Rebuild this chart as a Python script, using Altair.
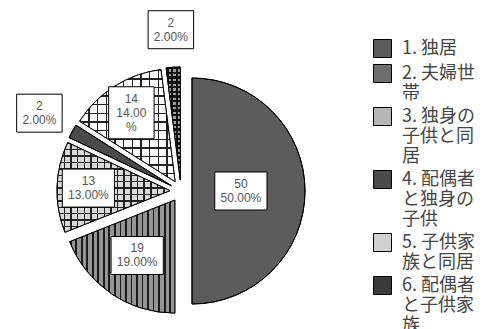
import altair as alt
import pandas as pd

# ---- data ----
names = ["独居", "夫婦世帯", "独身の子供と同居", "配偶者と独身の子供", "子供家族と同居", "配偶者と子供家族"]
values = [50, 19, 13, 2, 14, 2]
slice_labels = ["50|50.00%", "19|19.00%", "13|13.00%", "2|2.00%", "14|14.00|%", "2|2.00%"]


def wrap(i, name):
    parts = [f"{i}. " + name[:3]] + [name[j:j + 4] for j in range(3, len(name), 4)]
    return "|".join(parts)


cats = [wrap(i + 1, n) for i, n in enumerate(names)]
df = pd.DataFrame({"cat": cats, "value": values, "lab": slice_labels, "idx": list(range(len(values)))})

# ---- layout / style ----
CX, CY, R, E = 181, 191, 113, 11
LH = 14  # slice-label line height
base_colors = ["#5c5c5c", "#6e6e6e", "#b5b5b5", "#4a4a4a", "#d0d0d0", "#3a3a3a"]


def stripes(n, duty, line, bg, vertical=True):
    stops = []
    for i in range(n):
        a, b, c = i / n, (i + duty) / n, (i + 1) / n
        stops += [alt.GradientStop(offset=a, color=line), alt.GradientStop(offset=b, color=line),
                  alt.GradientStop(offset=b, color=bg), alt.GradientStop(offset=c, color=bg)]
    if vertical:
        return alt.LinearGradient(gradient="linear", stops=stops, x1=0, y1=0, x2=1, y2=0)
    return alt.LinearGradient(gradient="linear", stops=stops, x1=0, y1=0, x2=0, y2=1)


TR = "rgba(0,0,0,0)"
patterns = [
    (1, stripes(19, 0.32, "#1a1a1a", "#959595", True)),
    (2, stripes(17, 0.22, "#222222", "#dadada", True)),
    (2, stripes(14, 0.22, "#222222", TR, False)),
    (4, stripes(11, 0.16, "#222222", "#ffffff", True)),
    (4, stripes(13, 0.16, "#222222", TR, False)),
    (5, stripes(3, 0.5, "#111111", "#a0a0a0", True)),
    (5, stripes(24, 0.5, "#111111", TR, False)),
]

arc_enc = dict(
    theta=alt.Theta("t0:Q", scale=None),
    theta2=alt.Theta2("t1:Q"),
    x=alt.X("px:Q", scale=None, axis=None),
    y=alt.Y("py:Q", scale=None, axis=None),
)

base = alt.Chart()

pie = base.mark_arc(radius=R, stroke="black", strokeWidth=1).encode(
    **arc_enc,
    color=alt.Color(
        "cat:N",
        scale=alt.Scale(domain=cats, range=base_colors),
        sort=cats,
        legend=alt.Legend(
            orient="none", legendX=373, legendY=39, title=None,
            symbolType="square", symbolSize=324, symbolStrokeColor="black", symbolStrokeWidth=1,
            labelFont="Noto Sans CJK JP", labelFontSize=18, labelColor="#454545",
            labelExpr="split(datum.label, '|')", labelLimit=300, labelOffset=10,
            rowPadding=2, padding=0,
        ),
    ),
)

pattern_layers = [
    base.mark_arc(radius=R, fill=g, strokeWidth=0).encode(**arc_enc).transform_filter(f"datum.idx == {k}")
    for k, g in patterns
]

outline = base.mark_arc(radius=R, fillOpacity=0, stroke="black", strokeWidth=1).encode(**arc_enc)

boxes = base.mark_rect(fill="white", stroke="black", strokeWidth=1).encode(
    x=alt.X("bx0:Q", scale=None, axis=None), x2="bx1:Q",
    y=alt.Y("by0:Q", scale=None, axis=None), y2="by1:Q",
)

texts = base.mark_text(
    lineBreak="|", fontSize=12, font="Liberation Sans", color="#555555",
    align="center", baseline="middle", lineHeight=LH,
).encode(
    x=alt.X("lx:Q", scale=None, axis=None),
    y=alt.Y("ty:Q", scale=None, axis=None),
    text="lab:N",
)

chart = alt.layer(pie, *pattern_layers, outline, boxes, texts, data=df).transform_joinaggregate(
    total="sum(value)"
).transform_window(
    cum="sum(value)", sort=[alt.SortField("idx")], frame=[None, 0]
).transform_calculate(
    t0="(datum.cum - datum.value) / datum.total * 2 * PI",
    t1="datum.cum / datum.total * 2 * PI",
).transform_calculate(
    mid="(datum.t0 + datum.t1) / 2",
    frac="datum.value / datum.total",
).transform_calculate(
    px=f"{CX} + {E} * sin(datum.mid)",
    py=f"{CY} - {E} * cos(datum.mid)",
    lr=f"datum.frac < 0.05 ? 1.43 * {R} : datum.frac >= 0.5 ? 0.53 * {R} : datum.frac >= 0.15 ? 0.69 * {R} : 0.82 * {R}",
    nl="length(split(datum.lab, '|'))",
).transform_calculate(
    lx=f"{CX} + datum.lr * sin(datum.mid)",
    ly=f"{CY} - datum.lr * cos(datum.mid)",
    mw="max(length(split(datum.lab, '|')[0]), length(split(datum.lab, '|')[1]), datum.nl > 2 ? length(split(datum.lab, '|')[2]) : 0)",
).transform_calculate(
    ty=f"datum.ly - (datum.nl - 1) * {LH} / 2",
    bx0="datum.lx - (datum.mw * 6.7 + 12) / 2",
    bx1="datum.lx + (datum.mw * 6.7 + 12) / 2",
    by0=f"datum.ly - (datum.nl * {LH} + 10) / 2",
    by1=f"datum.ly + (datum.nl * {LH} + 10) / 2",
).properties(
    width=494, height=329, padding=0, autosize="none", background="white"
).configure_view(stroke=None)

chart.save("out.html", embed_options={"renderer": "svg", "actions": False})
